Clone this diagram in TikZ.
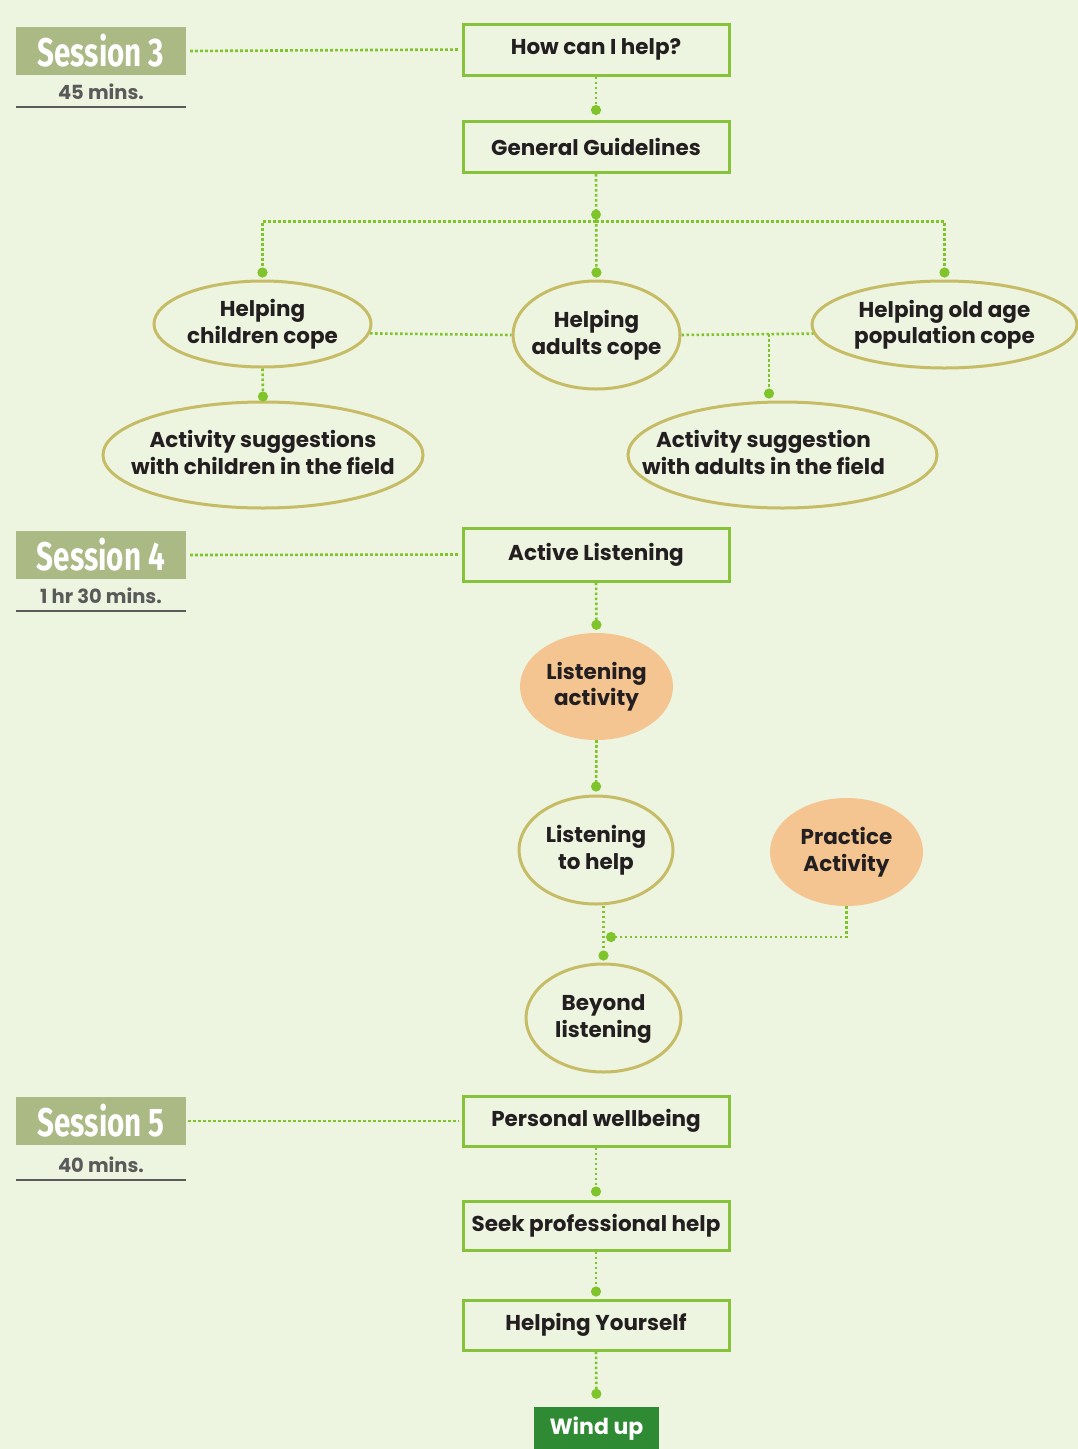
\documentclass[tikz,border=0pt]{standalone}
\usepackage{fontspec}
\setmainfont{Poppins}
\newfontfamily\sessfont[FakeStretch=0.74]{Fira Sans}
\usetikzlibrary{shapes.geometric,arrows.meta}
\definecolor{bg}{HTML}{EDF4E0}
\definecolor{lime}{HTML}{7FC42A}
\definecolor{boxgreen}{HTML}{86C33A}
\definecolor{khaki}{HTML}{C6BC66}
\definecolor{peach}{HTML}{F5C591}
\definecolor{olive}{HTML}{ABB985}
\definecolor{dkgreen}{HTML}{2E8B34}
\definecolor{ink}{HTML}{231F20}
\definecolor{gry}{HTML}{5A5A5A}
\newcommand\etext[1]{\makebox[0pt]{\smash{\raisebox{-0.28em}{\begin{tabular}[c]{@{}c@{}}#1\end{tabular}}}}}
\tikzset{
  txt/.style={font=\bfseries\fontsize{21.5}{26.5}\selectfont, text=ink},
  topic/.style={txt, draw=boxgreen, line width=3pt, minimum width=266pt, minimum height=51pt, inner sep=0pt},
  oval/.style={txt, ellipse, draw=khaki, line width=3pt, inner sep=0pt},
  peachoval/.style={txt, ellipse, fill=peach, inner sep=0pt},
  sess/.style={fill=olive, text=white, font=\sessfont\bfseries\fontsize{40}{40}\selectfont, minimum width=170pt, minimum height=48pt, inner sep=0pt},
  mins/.style={font=\bfseries\fontsize{19.5}{19.5}\selectfont, text=gry},
  conn/.style={lime, line width=2.6pt, dash pattern=on 2.6pt off 2.4pt},
  dotend/.style={-{Circle[length=10pt,width=10pt]}},
  dotmark/.style={fill=lime, circle, inner sep=0pt, minimum size=10pt},
}
\begin{document}
\begin{tikzpicture}[x=1pt,y=-1pt]
\useasboundingbox (0,0) rectangle (1078,1449);
\fill[bg] (0,0) rectangle (1078,1449);

% Session labels
\node[sess] (s3) at (101,51) {Session 3};
\node[mins] (m3) at (101,92) {45 mins.};
\draw[gry, line width=1.5pt] (16,107) coordinate (l3a) -- (186,107) coordinate (l3b);
\node[sess] (s4) at (101,555) {Session 4};
\node[mins] (m4) at (101,596) {1 hr 30 mins.};
\draw[gry, line width=1.5pt] (16,611) coordinate (l4a) -- (186,611) coordinate (l4b);
\node[sess] (s5) at (101,1121) {Session 5};
\node[mins] (m5) at (101,1165) {40 mins.};
\draw[gry, line width=1.5pt] (16,1180) coordinate (l5a) -- (186,1180) coordinate (l5b);

% Session 3
\node[topic] (q1) at (596,49.5) {How can I help?};
\node[topic] (gg) at (596,147) {General Guidelines};
\node[oval, minimum width=217pt, minimum height=86pt] (children) at (262.5,324) {\etext{Helping\\children cope}};
\node[oval, minimum width=167pt, minimum height=108pt] (adults) at (596.5,335) {\etext{Helping\\adults cope}};
\node[oval, minimum width=265pt, minimum height=87pt] (old) at (944.5,324.5) {\etext{Helping old age\\population cope}};
\node[oval, minimum width=320pt, minimum height=106pt] (actc) at (263,455) {\etext{Activity suggestions\\with children in the field}};
\node[oval, minimum width=309pt, minimum height=106pt] (acta) at (782.5,455) {\etext{\hspace*{-38pt}Activity suggestion\\\hspace*{-38pt}with adults in the field}};

% Session 4
\node[topic, minimum height=53pt] (al) at (596,554.5) {Active Listening};
\node[peachoval, minimum width=153pt, minimum height=107pt] (lact) at (596.5,686.5) {\etext{Listening\\activity}};
\node[oval, minimum width=154pt, minimum height=108pt] (lhelp) at (596,850) {\etext{Listening\\to help}};
\node[peachoval, minimum width=153pt, minimum height=108pt] (prac) at (846.5,852) {\etext{Practice\\Activity}};
\node[oval, minimum width=155pt, minimum height=108pt] (beyond) at (603.5,1018) {\etext{Beyond\\listening}};

% Session 5
\node[topic, minimum height=50pt] (pw) at (596,1121) {Personal wellbeing};
\node[topic, minimum height=49pt] (sph) at (596,1225.5) {Seek professional help};
\node[topic, minimum height=50pt] (hy) at (596,1325) {Helping Yourself};
\node[fill=dkgreen, text=white, font=\bfseries\fontsize{22}{22}\selectfont, minimum width=125pt, minimum height=44pt, inner sep=0pt] (wind) at (596.5,1429) {Wind up};

% Connectors
\draw[conn, shorten <=4pt, shorten >=3pt] (s3.east) -- (q1.west);
\draw[conn, shorten <=4pt, shorten >=3pt] (s4.east) -- (al.west);
\draw[conn, shorten <=2pt, shorten >=3pt] (s5.east) -- (pw.west);

\draw[conn, dotend, shorten >=5pt] (q1.south) -- (gg.north);
\coordinate (split) at (596,221.5);
\draw[conn, dotend, shorten >=2pt] (gg.south) -- (adults.north);
\node[dotmark] (d1) at (596,214.5) {};
\draw[conn, dotend, shorten >=2pt] (split) -| (children.north);
\draw[conn, dotend, shorten >=2pt] (split) -| (old.north);
\draw[conn] (children.-5.4) -- (adults.west);
\draw[conn] (adults.east) -- (old.184.2);
\coordinate (b2) at (769,334);
\draw[conn, dotend, shorten >=2pt] (b2) -- (b2 |- acta.north);
\draw[conn, dotend, shorten >=-1pt] (children.south) -- (actc.north);

\draw[conn, dotend, shorten >=3pt] (al.south) -- (lact.north);
\draw[conn, dotend, shorten >=3pt] (lact.south) -- (lhelp.north);
\draw[conn, dotend, shorten >=2pt] (beyond.north |- lhelp.south) -- (beyond.north);
\coordinate (pj) at (606,937);
\draw[conn, dotend] (prac.south) |- (pj);

\draw[conn, dotend, shorten >=3pt] (pw.south) -- (sph.north);
\draw[conn, dotend, shorten >=2pt] (sph.south) -- (hy.north);
\draw[conn, dotend, shorten >=8pt] (hy.south) -- (wind.north);
\end{tikzpicture}
\end{document}
